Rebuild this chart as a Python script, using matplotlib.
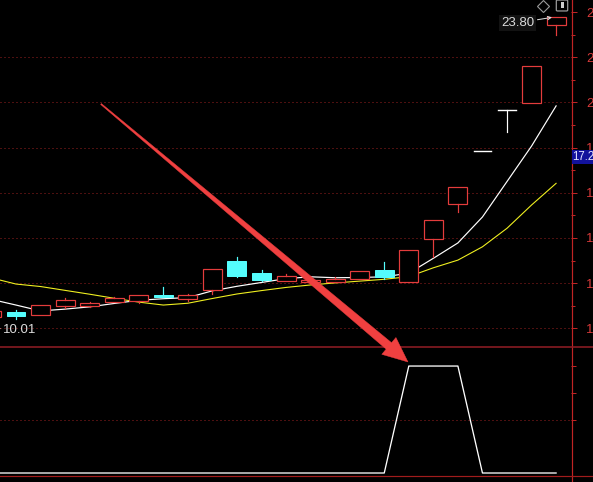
import matplotlib
matplotlib.use("Agg")
import matplotlib.pyplot as plt
from matplotlib.patches import Rectangle, Polygon, FancyBboxPatch
from matplotlib.lines import Line2D
import numpy as np

# ---------------------------------------------------------------- data
opens  = [10.50, 10.70, 10.59, 11.00, 11.00, 11.16, 11.22, 11.47, 11.31, 11.70,
          12.98, 12.45, 12.09, 12.03, 12.06, 12.17, 12.58, 12.05, 13.94, 15.49,
          17.86, 19.65, 19.96, 23.44]
highs  = [10.85, 10.82, 11.03, 11.36, 11.18, 11.38, 11.47, 11.83, 11.52, 12.63,
          13.17, 12.58, 12.40, 12.14, 12.27, 12.54, 12.94, 13.45, 14.80, 16.24,
          17.86, 19.65, 21.62, 23.80]
lows   = [10.01, 10.40, 10.59, 10.90, 10.94, 11.16, 11.12, 11.39, 11.22, 11.52,
          12.27, 12.09, 12.09, 12.03, 12.06, 12.17, 12.18, 12.05, 13.17, 15.16,
          17.86, 18.71, 19.96, 22.98]
closes = [10.77, 10.54, 11.03, 11.25, 11.12, 11.34, 11.47, 11.39, 11.47, 12.63,
          12.33, 12.15, 12.32, 12.14, 12.18, 12.54, 12.27, 13.45, 14.80, 16.24,
          17.86, 19.65, 21.62, 23.78]
ma5    = [11.28, 11.03, 10.77, 10.85, 10.95, 11.10, 11.24, 11.31, 11.36, 11.66,
          11.86, 12.03, 12.20, 12.28, 12.24, 12.25, 12.28, 12.44, 13.10, 13.78,
          14.93, 16.50, 18.07, 19.85]
ma10   = [12.23, 11.96, 11.85, 11.68, 11.51, 11.33, 11.16, 11.03, 11.11, 11.32,
          11.52, 11.67, 11.81, 11.92, 12.01, 12.09, 12.17, 12.29, 12.68, 13.02,
          13.61, 14.43, 15.46, 16.42]
signal = [0, 0, 0, 0, 0, 0, 0, 0, 0, 0, 0, 0, 0, 0, 0, 0, 0, 1, 1, 1, 0, 0, 0, 0]

price_ticks = [10, 12, 14, 16, 18, 20, 22, 24]
price_minor = [11, 13, 15, 17, 19, 21, 23]
price_tick_labels = ["10.00", "12.00", "14.00", "16.00", "18.00", "20.00", "22.00", "24.00"]
cursor_label = "17.26"

# ---------------------------------------------------------------- style
W, H, DPI = 593, 482, 100
BG = "#000000"
RED = "#e43c3c"
CYAN = "#54fcfc"
AXRED = "#c02424"
GRIDRED = "#9a2020"
FONT = ["Liberation Sans", "DejaVu Sans"]
PX = 72.0 / DPI  # points per pixel

plt.rcParams["font.family"] = FONT


def fx(px):
    return px / W


def fy(py):
    return 1 - py / H


fig = plt.figure(figsize=(W / DPI, H / DPI), dpi=DPI, facecolor=BG)

# index <-> pixel layout: candle spacing 24.55 px, axis line at x = 571
def idx_at(px):
    return 1 + (px - 16) / 24.55


x0, x1 = idx_at(0), idx_at(571)

# ---------------------------------------------------------------- price panel
ax = fig.add_axes([0, fy(347), fx(571), 347 / H])
ax.set_facecolor(BG)
ax.set_xlim(x0, x1)
ax.set_ylim(9.172, 24.539)
for s in ax.spines.values():
    s.set_visible(False)
ax.set_xticks([])
ax.yaxis.tick_right()
ax.set_yticks(price_ticks)
ax.set_yticklabels(price_tick_labels)
ax.set_yticks(price_minor, minor=True)
ax.tick_params(axis="y", which="major", direction="out", length=6 * PX,
               width=1 * PX, color=AXRED, labelcolor="#d83a3a",
               labelsize=9.5, pad=9 * PX)
ax.tick_params(axis="y", which="minor", direction="out", length=4 * PX,
               width=1 * PX, color=AXRED)

for t in price_ticks[:-1]:
    ax.axhline(t, color=GRIDRED, lw=1 * PX, ls=(0, (1, 3)), zorder=1)

n = len(closes)
xs = np.arange(n)
ax.plot(xs, ma5, color="#ffffff", lw=1.2 * PX, zorder=4)
ax.plot(xs, ma10, color="#f0f020", lw=1.1 * PX, zorder=4)

cw = 0.77
for i in range(n):
    o, h, l, c = opens[i], highs[i], lows[i], closes[i]
    if c > o:
        ax.add_patch(Rectangle((i - cw / 2, o), cw, c - o, fill=True,
                               facecolor=BG, edgecolor=RED, lw=1.2 * PX, zorder=5))
        if h > c:
            ax.plot([i, i], [c, h], color=RED, lw=1.2 * PX, zorder=5)
        if l < o:
            ax.plot([i, i], [l, o], color=RED, lw=1.2 * PX, zorder=5)
    elif c < o:
        ax.add_patch(Rectangle((i - cw / 2, c), cw, o - c, facecolor=CYAN,
                               edgecolor=CYAN, lw=1 * PX, zorder=5))
        ax.plot([i, i], [l, h], color=CYAN, lw=1.2 * PX, zorder=4.9)
    else:
        ax.plot([i - 0.36, i + 0.36], [c, c], color="#ffffff", lw=1.4 * PX, zorder=5)
        if h > l:
            ax.plot([i, i], [l, h], color="#ffffff", lw=1.2 * PX, zorder=5)

# extreme price labels
hi_i = int(np.argmax(highs))
lo_i = int(np.argmin(lows))
ax.annotate(f"{highs[hi_i]:.2f}", xy=(hi_i, highs[hi_i]),
            xytext=(-22 * PX, -6.3 * PX), textcoords="offset points",
            ha="right", va="center", color="#dcdcdc", fontsize=9.5,
            annotation_clip=False, zorder=8,
            bbox=dict(boxstyle="square,pad=0.15", fc="#121212", ec="none"),
            arrowprops=dict(arrowstyle="->", color="#dcdcdc", lw=1 * PX,
                            shrinkA=1, shrinkB=3, mutation_scale=6))
ax.annotate(f"{lows[lo_i]:.2f}", xy=(lo_i, lows[lo_i]),
            xytext=(11.5 * PX, -1.7 * PX), textcoords="offset points",
            ha="left", va="center", color="#dcdcdc", fontsize=9.5,
            annotation_clip=False, zorder=8,
            arrowprops=dict(arrowstyle="-", color="#dcdcdc", lw=1 * PX,
                            shrinkA=0, shrinkB=0))

# ---------------------------------------------------------------- indicator panel
ax2 = fig.add_axes([0, fy(476), fx(571), (476 - 347) / H])
ax2.set_facecolor(BG)
ax2.set_xlim(x0, x1)
ax2.set_ylim(-0.028, 1.178)
for s in ax2.spines.values():
    s.set_visible(False)
ax2.set_xticks([])
ax2.yaxis.tick_right()
ax2.set_yticks([0.5, 0.75, 1.0])
ax2.set_yticklabels([])
ax2.tick_params(axis="y", direction="out", length=5 * PX, width=1 * PX, color=AXRED)
ax2.axhline(0.5, color=GRIDRED, lw=1 * PX, ls=(0, (1, 3)), zorder=1)
ax2.plot(xs, signal, color="#ffffff", lw=1.3 * PX, zorder=4)

# ---------------------------------------------------------------- frame lines
fig.add_artist(Line2D([fx(571.5), fx(571.5)], [0, 1], color=AXRED, lw=1.2 * PX))
fig.add_artist(Line2D([0, 1], [fy(347), fy(347)], color="#8c1c24", lw=1.6 * PX))
fig.add_artist(Line2D([0, 1], [fy(475.5), fy(475.5)], color="#a01c1c", lw=1.2 * PX))

# cursor price box on the axis
fig.add_artist(Rectangle((fx(572), fy(164)), fx(30), 14 / H, facecolor="#12129c",
                         edgecolor="none", zorder=6))
fig.text(fx(572.5), fy(157), cursor_label, color="#e4e4ff", fontsize=8.3,
         ha="left", va="center", zorder=7)

# toolbar icons
fig.add_artist(Line2D([fx(543)], [fy(6)], marker="D", markersize=6.5,
                      markerfacecolor="none", markeredgecolor="#9a9a9a",
                      markeredgewidth=0.8, zorder=7))
fig.add_artist(FancyBboxPatch((fx(557.5), fy(10)), fx(9), 9 / H,
                              boxstyle="round,pad=0.002", facecolor="none",
                              edgecolor="#9a9a9a", lw=0.9, zorder=7))
fig.add_artist(Rectangle((fx(560.5), fy(8)), fx(3.5), 6 / H, facecolor="#cfcfcf",
                         edgecolor="none", zorder=7))

# ---------------------------------------------------------------- arrow
start = np.array([101.0, 104.0])
tip = np.array([408.0, 362.0])
u = (tip - start) / np.linalg.norm(tip - start)
nrm = np.array([-u[1], u[0]])
base = tip - 25 * u
pts = [start + 0.6 * nrm, base + 4.2 * nrm, base + 11 * nrm, tip,
       base - 11 * nrm, base - 4.2 * nrm, start - 0.6 * nrm]
fig.add_artist(Polygon([(fx(p[0]), fy(p[1])) for p in pts], closed=True,
                       facecolor="#f04040", edgecolor="#f04040", lw=0.3, zorder=9))

fig.savefig("out.png", dpi=DPI, facecolor=BG)
